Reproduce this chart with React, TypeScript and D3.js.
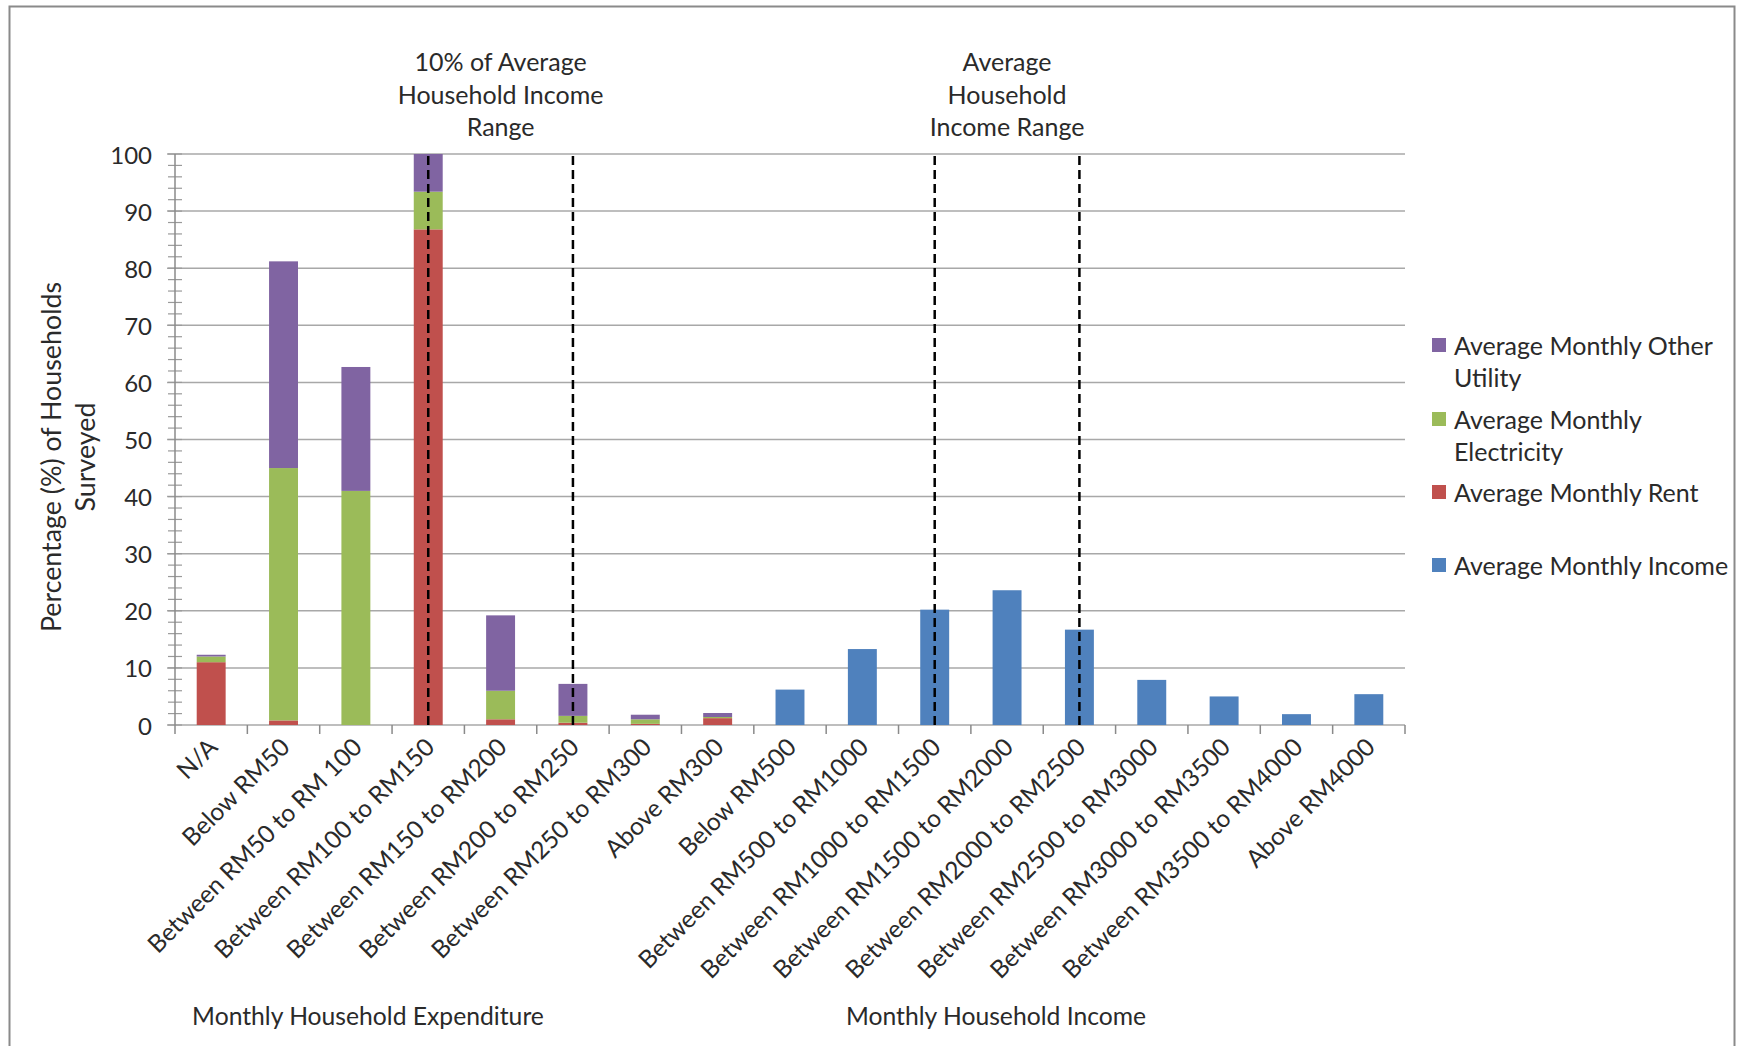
import React from "react";
import * as d3 from "d3";

// ---------- DATA ----------
const expenditureCategories = [
  "N/A",
  "Below RM50",
  "Between RM50 to RM 100",
  "Between RM100 to RM150",
  "Between RM150 to RM200",
  "Between RM200 to RM250",
  "Between RM250 to RM300",
  "Above RM300",
];
const incomeCategories = [
  "Below RM500",
  "Between RM500 to RM1000",
  "Between RM1000 to RM1500",
  "Between RM1500 to RM2000",
  "Between RM2000 to RM2500",
  "Between RM2500 to RM3000",
  "Between RM3000 to RM3500",
  "Between RM3500 to RM4000",
  "Above RM4000",
];
const categories = [...expenditureCategories, ...incomeCategories];

const rentValues = [11, 0.8, 0, 86.8, 1, 0.4, 0.2, 1.2];
const electricityValues = [1, 44.2, 41, 6.6, 5, 1.2, 0.8, 0.2];
const otherUtilityValues = [0.3, 36.2, 21.7, 6.6, 13.2, 5.6, 0.8, 0.7];
const incomeValues = [6.2, 13.3, 20.2, 23.6, 16.7, 7.9, 5.0, 1.9, 5.4];

const yTicks = [0, 10, 20, 30, 40, 50, 60, 70, 80, 90, 100];
const minorTicks = d3.range(0, 101, 2);

const dashedAt = [
  "Between RM100 to RM150",
  "Between RM200 to RM250",
  "Between RM1000 to RM1500",
  "Between RM2000 to RM2500",
];
const annotations = [
  { at: "Between RM150 to RM200", lines: ["10% of Average", "Household Income", "Range"] },
  { at: "Between RM1500 to RM2000", lines: ["Average", "Household", "Income Range"] },
];

const legendItems = [
  { key: "other", lines: ["Average Monthly Other", "Utility"] },
  { key: "elec", lines: ["Average Monthly", "Electricity"] },
  { key: "rent", lines: ["Average Monthly Rent"] },
  { key: "income", lines: ["Average Monthly Income"] },
];

const groupLabels = [
  { text: "Monthly Household Expenditure", x: 368 },
  { text: "Monthly Household Income", x: 996 },
];

// ---------- STYLE / LAYOUT ----------
const W = 1737;
const H = 1046;
const colors: Record<string, string> = {
  rent: "#C0504D",
  elec: "#9BBB59",
  other: "#8064A2",
  income: "#4F81BD",
};
const FONT = "Lato, 'Open Sans', sans-serif";
const TEXT = "#2a2a2a";

export default function App() {
  const x = d3
    .scaleBand<string>()
    .domain(categories)
    .range([175, 1405])
    .paddingInner(0.6)
    .paddingOuter(0.3);
  const y = d3.scaleLinear().domain([0, 100]).range([725, 154]);
  const step = x.step();
  const cx = (c: string) => (x(c) as number) + x.bandwidth() / 2;

  const rows = expenditureCategories.map((c, i) => ({
    cat: c,
    rent: rentValues[i],
    elec: electricityValues[i],
    other: otherUtilityValues[i],
  }));
  const stacked = d3.stack<any>().keys(["rent", "elec", "other"])(rows);

  const legendY = [345, 419, 492, 565];
  const lineGap = 32;

  return (
    <svg
      width={W}
      height={H}
      style={{ position: "absolute", left: 0, top: 0, background: "#fff" }}
      fontFamily={FONT}
    >
      <rect x={0} y={0} width={W} height={H} fill="#fff" />
      <rect x={9.5} y={6.5} width={1725} height={1060} fill="none" stroke="#8a8a8a" strokeWidth={2} />

      {/* gridlines */}
      {yTicks.map((t) => (
        <line key={"g" + t} x1={167} x2={1405} y1={y(t)} y2={y(t)} stroke="#a8a8a8" strokeWidth={1.5} />
      ))}
      {/* minor ticks */}
      {minorTicks.map((t) => (
        <line key={"m" + t} x1={168} x2={182} y1={y(t)} y2={y(t)} stroke="#9a9a9a" strokeWidth={1.2} />
      ))}
      {/* y axis line */}
      <line x1={175} x2={175} y1={y(100)} y2={y(0)} stroke="#8a8a8a" strokeWidth={1.5} />
      {/* x tick marks at category boundaries */}
      {d3.range(categories.length + 1).map((i) => (
        <line
          key={"xt" + i}
          x1={175 + i * step}
          x2={175 + i * step}
          y1={y(0)}
          y2={y(0) + 9}
          stroke="#8a8a8a"
          strokeWidth={1.5}
        />
      ))}

      {/* y tick labels */}
      {yTicks.map((t) => (
        <text
          key={"yl" + t}
          x={152}
          y={y(t)}
          textAnchor="end"
          dominantBaseline="central"
          fontSize={24}
          fill={TEXT}
        >
          {t}
        </text>
      ))}

      {/* stacked expenditure bars */}
      {stacked.map((layer) =>
        layer.map((d, i) => (
          <rect
            key={layer.key + i}
            x={x(rows[i].cat)}
            width={x.bandwidth()}
            y={y(d[1])}
            height={Math.max(0, y(d[0]) - y(d[1]))}
            fill={colors[layer.key]}
          />
        ))
      )}
      {/* income bars */}
      {incomeCategories.map((c, i) => (
        <rect
          key={"inc" + i}
          x={x(c)}
          width={x.bandwidth()}
          y={y(incomeValues[i])}
          height={y(0) - y(incomeValues[i])}
          fill={colors.income}
        />
      ))}

      {/* dashed reference lines */}
      {dashedAt.map((c) => (
        <line
          key={"d" + c}
          x1={cx(c)}
          x2={cx(c)}
          y1={y(100) + 2}
          y2={y(0)}
          stroke="#000"
          strokeWidth={2.5}
          strokeDasharray="9,5"
        />
      ))}

      {/* annotations */}
      {annotations.map((a) => (
        <text key={a.at} textAnchor="middle" fontSize={25} fill={TEXT}>
          {a.lines.map((l, j) => (
            <tspan key={j} x={cx(a.at)} y={61 + j * 32.5} dominantBaseline="central">
              {l}
            </tspan>
          ))}
        </text>
      ))}

      {/* x category labels */}
      {categories.map((c) => (
        <text
          key={"xl" + c}
          transform={`translate(${cx(c) + 1},${y(0) + 17}) rotate(-45)`}
          textAnchor="end"
          dominantBaseline="central"
          fontSize={24.5}
          fill={TEXT}
        >
          {c}
        </text>
      ))}

      {/* group labels */}
      {groupLabels.map((g) => (
        <text key={g.text} x={g.x} y={1015} textAnchor="middle" dominantBaseline="central" fontSize={24.7} fill={TEXT}>
          {g.text}
        </text>
      ))}

      {/* y axis title */}
      <text transform={`translate(51,457) rotate(-90)`} textAnchor="middle" dominantBaseline="central" fontSize={26.8} fill={TEXT}>
        Percentage (%) of Households
      </text>
      <text transform={`translate(85,457) rotate(-90)`} textAnchor="middle" dominantBaseline="central" fontSize={26.8} fill={TEXT}>
        Surveyed
      </text>

      {/* legend */}
      {legendItems.map((it, i) => (
        <g key={it.key}>
          <rect x={1432} y={legendY[i] - 7} width={14} height={14} fill={colors[it.key]} />
          {it.lines.map((l, j) => (
            <text
              key={j}
              x={1454}
              y={legendY[i] + j * lineGap}
              dominantBaseline="central"
              fontSize={25}
              fill={TEXT}
            >
              {l}
            </text>
          ))}
        </g>
      ))}
    </svg>
  );
}
